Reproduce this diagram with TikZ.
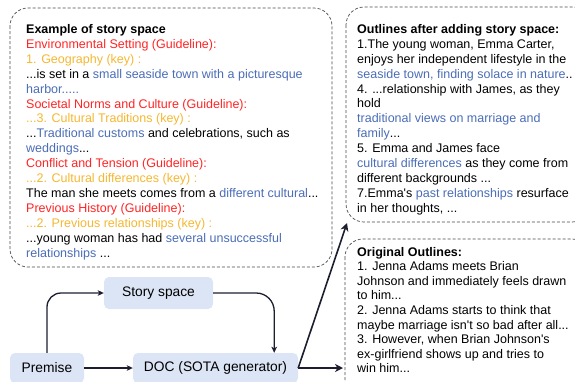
\documentclass[tikz,border=0pt]{standalone}
\usepackage{fontspec}
\setmainfont{Liberation Sans}
\usetikzlibrary{arrows.meta}
\definecolor{gred}{HTML}{FF2424}
\definecolor{ggold}{HTML}{F5B731}
\definecolor{gblue}{HTML}{4A6DB6}
\definecolor{nodefill}{HTML}{DCE5F5}
\definecolor{linecol}{HTML}{1C1E30}
\definecolor{dashcol}{HTML}{4A4A4A}
\newcommand\rd[1]{\textcolor{gred}{#1}}
\newcommand\gd[1]{\textcolor{ggold}{#1}}
\newcommand\bl[1]{\textcolor{gblue}{#1}}
\newcommand\txtblock[2]{\parbox[t]{400pt}{\raggedright\fontsize{12.5}{#1}\selectfont #2\par}}
\tikzset{
  dashbox/.style={draw=dashcol, line width=0.7pt, dash pattern=on 3pt off 2pt, rounded corners=18pt},
  flowbox/.style={fill=nodefill, rounded corners=5pt, inner sep=0pt, font=\fontsize{13.8}{16}\selectfont},
  flow/.style={draw=linecol, line width=1.3pt, -{Stealth[length=6pt,width=5.5pt,inset=1.5pt]}},
  bigflow/.style={draw=linecol, line width=1.6pt, -{Stealth[length=8pt,width=8pt,inset=2.5pt]}},
  textblock/.style={anchor=base west, inner sep=0pt}
}
\begin{document}
\begin{tikzpicture}[x=1pt,y=-1pt]
\useasboundingbox (0,0) rectangle (575,381);
% dashed boxes
\draw[dashbox] (10,8) rectangle (332,267);
\draw[dashbox] (346,7) rectangle (590,222);
\draw[dashbox] (345,239) rectangle (590,400);
% texts
\node[textblock] (lefttext) at (26,33.4) {\txtblock{14.93}{%
\textbf{Example of story space}\\
\rd{Environmental Setting (Guideline):}\\
\gd{1. Geography (key) :}\\
...is set in a \bl{small seaside town with a picturesque}\\
\bl{harbor.....}\\
\rd{Societal Norms and Culture (Guideline):}\\
\gd{...3. Cultural Traditions (key) :}\\
...\bl{Traditional customs} and celebrations, such as\\
\bl{weddings}...\\
\rd{Conflict and Tension (Guideline):}\\
\gd{...2. Cultural differences (key) :}\\
The man she meets comes from a \bl{different cultural}...\\
\rd{Previous History (Guideline):}\\
\gd{...2. Previous relationships (key) :}\\
...young woman has had \bl{several unsuccessful}\\
\bl{relationships} ...}};
\node[textblock] (toptext) at (357,33.4) {\txtblock{14.9}{%
\textbf{Outlines after adding story space:}\\
1.The young woman, Emma Carter,\\
enjoys her independent lifestyle in the\\
\bl{seaside town, finding solace in nature}..\\
4. ...relationship with James, as they\\
hold\\
\bl{traditional views on marriage and}\\
\bl{family}...\\
5. Emma and James face\\
\bl{cultural differences} as they come from\\
different backgrounds ...\\
7.Emma\textquotesingle s \bl{past relationships} resurface\\
in her thoughts, ...}};
\node[textblock] (bottomtext) at (357,256) {\txtblock{14.6}{%
\textbf{Original Outlines:}\\
1. Jenna Adams meets Brian\\
Johnson and immediately feels drawn\\
to him...\\
2. Jenna Adams starts to think that\\
maybe marriage isn\textquotesingle t so bad after all...\\
3. However, when Brian Johnson\textquotesingle s\\
ex-girlfriend shows up and tries to\\
win him...}};
% flow nodes
\node[flowbox, minimum width=109pt, minimum height=32pt] (story) at (158.5,293) {Story space};
\node[flowbox, minimum width=74pt, minimum height=30pt] (premise) at (47,368) {Premise};
\node[flowbox, minimum width=165pt, minimum height=30pt] (doc) at (215.5,368) {DOC (SOTA generator)};
% connectors
\draw[flow, rounded corners=14pt] (premise.north) |- (story.west);
\draw[flow, rounded corners=18pt] (story.east) -| ([xshift=-24pt]doc.north east);
\draw[flow] (premise.east) -- (doc.west);
\coordinate (outright) at (343,368);
\coordinate (outup) at (347,223);
\draw[bigflow] (doc.east) -- (outright);
\draw[bigflow] (doc.east) -- (outup);
\end{tikzpicture}
\end{document}
